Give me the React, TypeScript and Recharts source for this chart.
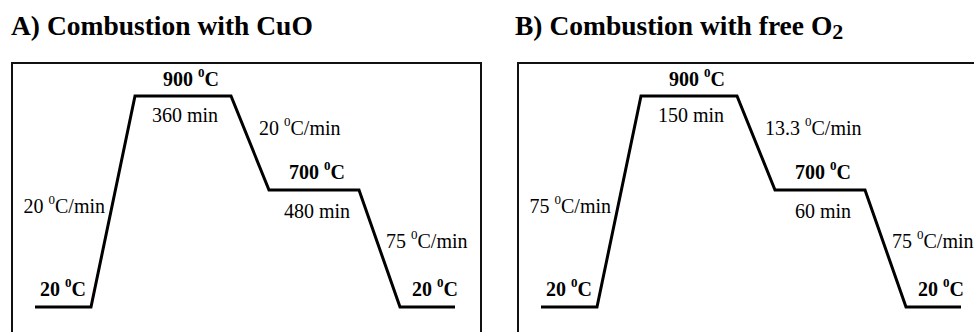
import React from 'react';
import { LineChart, Line, XAxis, YAxis } from 'recharts';

// Schematic furnace programme: position along the (not to scale) time axis
// and plotted height of each temperature plateau.
const stageX = [0, 56, 100, 196, 234, 324, 365, 420];
const stageLevel = [0, 0, 211, 211, 117, 117, 0, 0];

// Plateau temperatures (start, peak, intermediate, end)
const plateauTemps = ['20', '900', '700', '20'];

// Panel A: combustion with CuO
const rampRatesA = ['20', '20', '75'];
const holdTimesA = ['360 min', '480 min'];

// Panel B: combustion with free O2
const rampRatesB = ['75', '13.3', '75'];
const holdTimesB = ['150 min', '60 min'];

const FONT = '"Liberation Serif", "Times New Roman", serif';

const profile = stageX.map((x, i) => ({ x, level: stageLevel[i] }));

interface DegProps {
    x: number;
    y: number;
    value: string;
    suffix?: string;
    bold?: boolean;
    anchor?: 'start' | 'middle' | 'end';
}

const Deg: React.FC<DegProps> = ({ x, y, value, suffix = 'C', bold, anchor = 'start' }) => (
    <text x={x} y={y} fontSize={20} fontFamily={FONT} fontWeight={bold ? 700 : 400} textAnchor={anchor} fill="#000">
        {value + ' '}
        <tspan dy={-9} fontSize={13}>0</tspan>
        <tspan dy={9}>{suffix}</tspan>
    </text>
);

interface PanelProps {
    left: number;
    plotLeft: number;
    rates: string[];
    holds: string[];
}

const Panel: React.FC<PanelProps> = ({ left, plotLeft, rates, holds }) => {
    const ox = plotLeft;
    return (
        <div style={{ position: 'absolute', left, top: 0, width: 487, height: 332 }}>
            <LineChart
                width={487}
                height={332}
                data={profile}
                margin={{ top: 96, right: 487 - plotLeft - 420, bottom: 25, left: plotLeft }}
            >
                <XAxis dataKey="x" type="number" domain={[0, 420]} hide />
                <YAxis type="number" domain={[0, 211]} hide />
                <Line
                    type="linear"
                    dataKey="level"
                    stroke="#000"
                    strokeWidth={3}
                    dot={false}
                    isAnimationActive={false}
                />
            </LineChart>
            <svg width={487} height={332} style={{ position: 'absolute', left: 0, top: 0, pointerEvents: 'none' }}>
                <Deg x={ox + 5} y={296} value={plateauTemps[0]} bold />
                <Deg x={ox + 70} y={213} value={rates[0]} suffix="C/min" anchor="end" />
                <Deg x={ox + 156} y={86} value={plateauTemps[1]} bold anchor="middle" />
                <text x={ox + 150} y={122} fontSize={20} fontFamily={FONT} textAnchor="middle">{holds[0]}</text>
                <Deg x={ox + 224} y={135} value={rates[1]} suffix="C/min" />
                <Deg x={ox + 282} y={179} value={plateauTemps[2]} bold anchor="middle" />
                <text x={ox + 282} y={218} fontSize={20} fontFamily={FONT} textAnchor="middle">{holds[1]}</text>
                <Deg x={ox + 351} y={248} value={rates[2]} suffix="C/min" />
                <Deg x={ox + 377} y={296} value={plateauTemps[3]} bold />
            </svg>
        </div>
    );
};

const App: React.FC = () => {
    return (
        <div style={{ position: 'absolute', left: 0, top: 0, width: 974, height: 332, overflow: 'hidden', background: '#fff' }}>
            <svg width={974} height={50} style={{ position: 'absolute', left: 0, top: 0 }}>
                <text x={11} y={35} fontSize={27.5} fontWeight={700} fontFamily={FONT} fill="#000">
                    A) Combustion with CuO
                </text>
                <text x={515} y={35} fontSize={27.5} fontWeight={700} fontFamily={FONT} fill="#000">
                    B) Combustion with free O<tspan dy={4} fontSize={22}>2</tspan>
                </text>
            </svg>
            {/* frames around each panel, cut off by the page edge */}
            <div style={{ position: 'absolute', left: 11, top: 62, width: 467, height: 300, border: '2px solid #111' }} />
            <div style={{ position: 'absolute', left: 517, top: 62, width: 500, height: 300, border: '2px solid #111' }} />
            <Panel left={0} plotLeft={35} rates={rampRatesA} holds={holdTimesA} />
            <Panel left={487} plotLeft={54} rates={rampRatesB} holds={holdTimesB} />
        </div>
    );
};

export default App;
